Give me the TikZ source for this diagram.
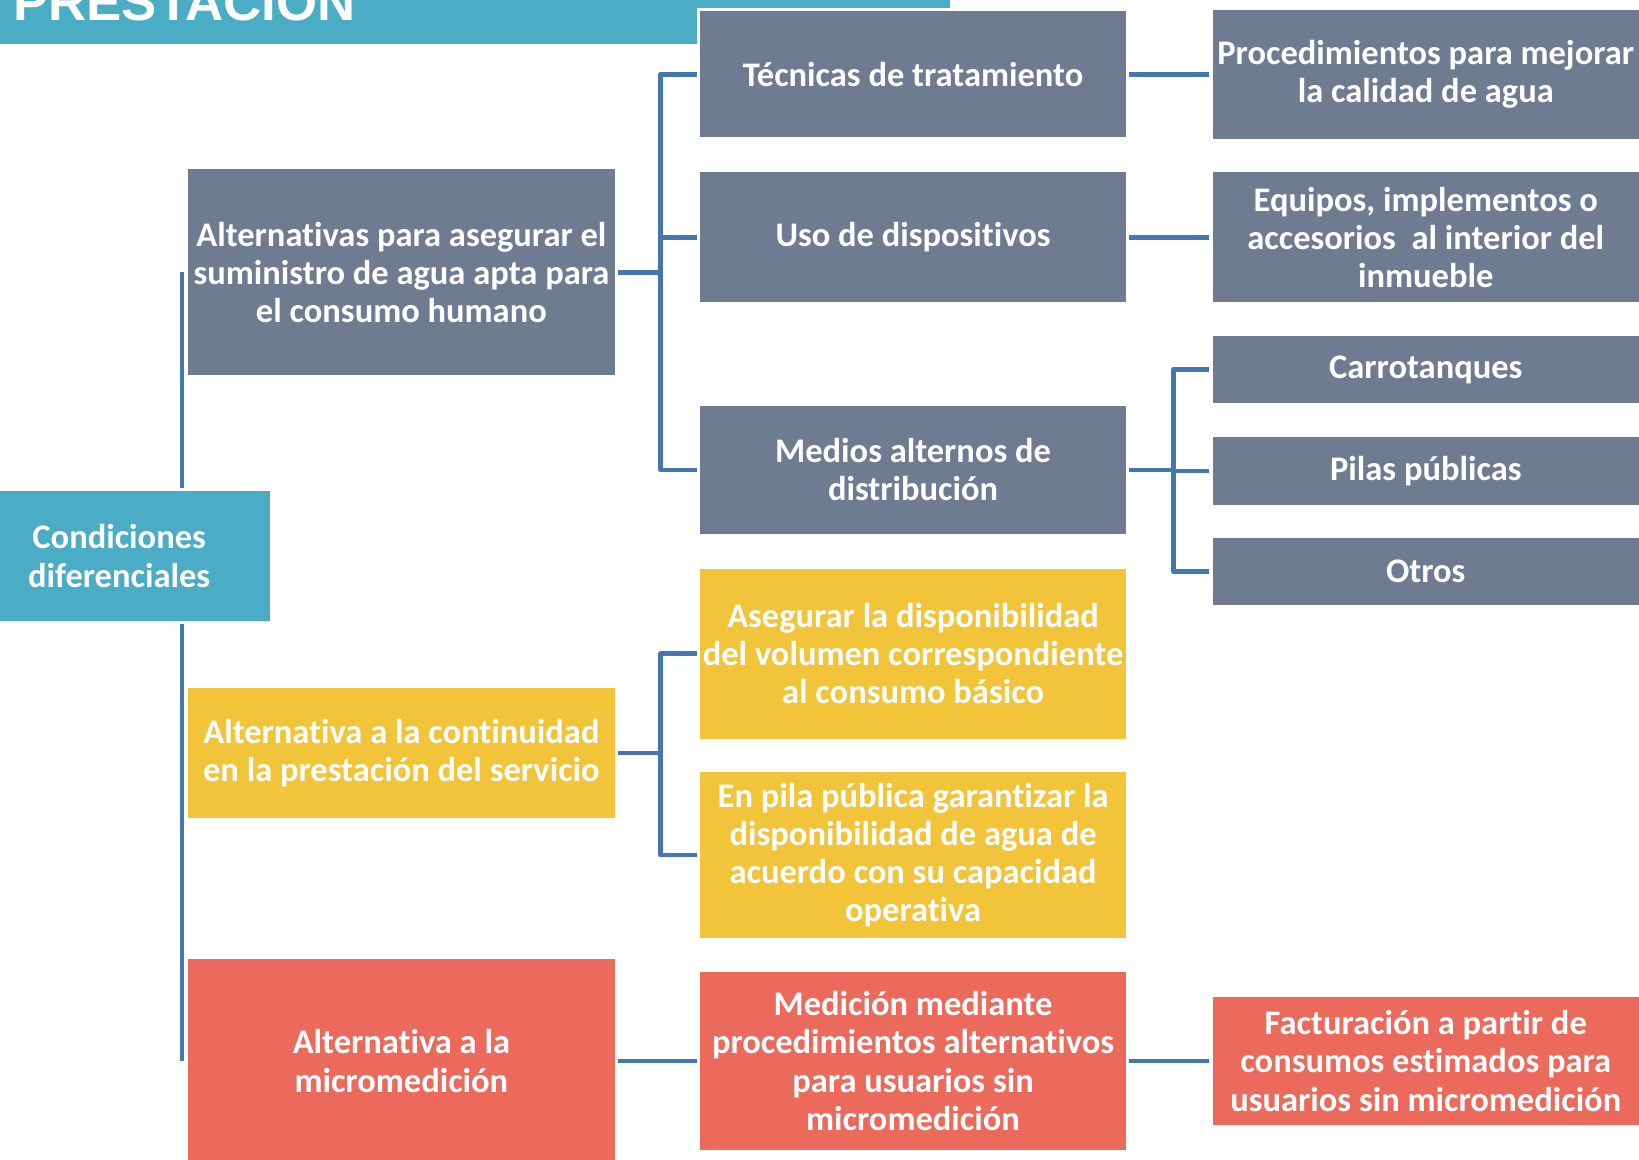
\documentclass[tikz,border=0pt]{standalone}
\usepackage{fontspec}
\setmainfont{Carlito}[Ligatures=NoCommon]
\newfontfamily\titlefont{Liberation Sans}
\usetikzlibrary{backgrounds}
\definecolor{azul}{RGB}{75,172,198}
\definecolor{gris}{RGB}{111,123,145}
\definecolor{amarillo}{RGB}{242,196,58}
\definecolor{rojo}{RGB}{236,106,92}
\definecolor{linea}{RGB}{70,118,176}
\tikzset{
  caja/.style={rectangle, draw=white, line width=3pt, text=white, inner sep=0pt, align=center,
    font=\fontsize{33}{36.5}\selectfont\bfseries, minimum width=411pt},
  conector/.style={draw=linea, line width=4.5pt, line join=round},
}
\begin{document}
\begin{tikzpicture}[x=1pt,y=-1pt]
\useasboundingbox (0,0) rectangle (1568,1109);
\fill[azul] (0,-40) rectangle (909,42);
\node[anchor=base west, inner sep=0pt, text=white, font=\titlefont\fontsize{50.5}{50}\selectfont\bfseries] (tit) at (12.5,20) {PRESTACION};
% nivel 0
\node[caja, fill=azul, minimum width=291pt, minimum height=127pt] (cond) at (114,532) {Condiciones\\diferenciales};
% nivel 1
\node[caja, fill=gris, minimum height=200pt] (alt1) at (384,260.5) {Alternativas para asegurar el\\suministro de agua apta para\\el consumo humano};
\node[caja, fill=amarillo, minimum height=128pt] (alt2) at (384,720.5) {Alternativa a la continuidad\\en la prestación del servicio};
\node[caja, fill=rojo, minimum height=198pt] (alt3) at (384,1015) {Alternativa a la\\micromedición};
% nivel 2
\node[caja, fill=gris, minimum height=124pt] (tec) at (873.5,71) {Técnicas de tratamiento};
\node[caja, fill=gris, minimum height=127pt] (uso) at (873.5,227) {Uso de dispositivos};
\node[caja, fill=gris, minimum height=126pt] (med) at (873.5,449.5) {Medios alternos de\\distribución};
\node[caja, fill=amarillo, minimum height=166pt] (ase) at (873.5,625.5) {Asegurar la disponibilidad\\del volumen correspondiente\\al consumo básico};
\node[caja, fill=amarillo, minimum height=161pt] (pil) at (873.5,818) {En pila pública garantizar la\\disponibilidad de agua de\\acuerdo con su capacidad\\operativa};
\node[caja, fill=rojo, minimum height=173pt] (mic) at (873.5,1015) {Medición mediante\\procedimientos alternativos\\para usuarios sin\\micromedición};
% nivel 3
\node[caja, fill=gris, minimum height=126pt] (pro) at (1364,71.5) {Procedimientos para mejorar\\la calidad de agua};
\node[caja, fill=gris, minimum height=127pt] (equ) at (1364,227) {Equipos, implementos o\\accesorios\ \ al interior del\\inmueble};
\node[caja, fill=gris, minimum height=68pt] (car) at (1364,353.5) {Carrotanques};
\node[caja, fill=gris, minimum height=68pt] (pp) at (1364,450.5) {Pilas públicas};
\node[caja, fill=gris, minimum height=67pt] (otr) at (1364,547) {Otros};
\node[caja, fill=rojo, minimum height=126pt] (fac) at (1364,1015) {Facturación a partir de\\consumos estimados para\\usuarios sin micromedición};
% conectores
\begin{scope}[on background layer]
\draw[conector] ([xshift=-3pt]alt1.west) -- ([xshift=-3pt]alt3.west);
\draw[conector] (alt1.east) -- +(41,0) |- (tec.west);
\draw[conector] (alt1.east) -- +(41,0) |- (uso.west);
\draw[conector] (alt1.east) -- +(41,0) |- (med.west);
\draw[conector] (alt2.east) -- +(41,0) |- (ase.west);
\draw[conector] (alt2.east) -- +(41,0) |- (pil.west);
\draw[conector] (alt3.east) -- (alt3.east -| mic.west);
\draw[conector] (tec.east) -- (tec.east -| pro.west);
\draw[conector] (uso.east) -- (uso.east -| equ.west);
\draw[conector] (med.east) -- +(42,0) |- (car.west);
\draw[conector] (med.east) -- +(42,0) |- (pp.west);
\draw[conector] (med.east) -- +(42,0) |- (otr.west);
\draw[conector] (mic.east) -- (mic.east -| fac.west);
\end{scope}
\end{tikzpicture}
\end{document}
